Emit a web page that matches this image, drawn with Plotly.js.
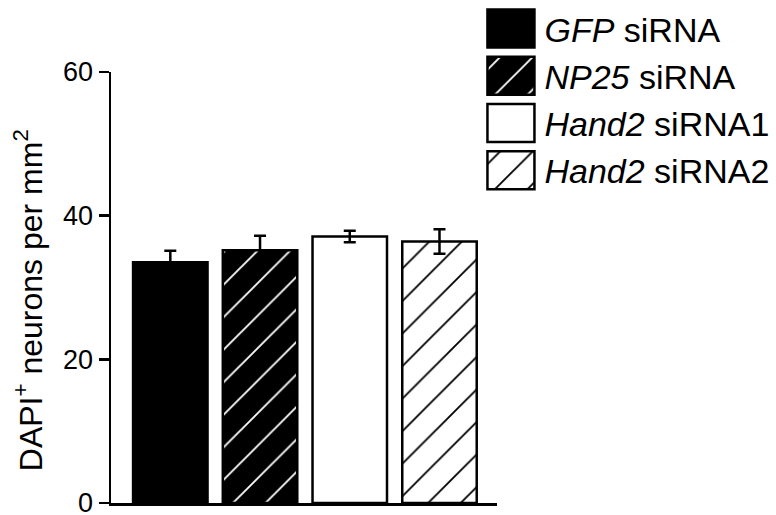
<!DOCTYPE html>
<html>
<head>
<meta charset="utf-8">
<script src="https://cdn.plot.ly/plotly-3.0.1.min.js"></script>
<style>html,body{margin:0;padding:0;background:#fff;}#chart{width:776px;height:515px;}</style>
</head>
<body>
<div id="chart"></div>
<script>
// Data
const categories = ["GFP siRNA", "NP25 siRNA", "Hand2 siRNA1", "Hand2 siRNA2"];
const legendNames = ["<i>GFP</i> siRNA", "<i>NP25</i> siRNA", "<i>Hand2</i> siRNA1", "<i>Hand2</i> siRNA2"];
const values = [33.5, 35.2, 37.1, 36.4];
const errors = [1.6, 2.0, 0.8, 1.7];
const yTicks = [0, 20, 40, 60];
const yTitle = "DAPI<sup>+</sup> neurons per mm<sup>2</sup>";

// Styling per bar
const fillColors = ["#000000", "#000000", "#ffffff", "#ffffff"];
const patternShapes = ["", "/", "", "/"];
const patternFg = ["#ffffff", "#ffffff", "#000000", "#000000"];

const FONT = "Liberation Sans, Arial, Helvetica, sans-serif";

const traces = categories.map((c, i) => ({
  type: "bar",
  name: legendNames[i],
  x: [c],
  y: [values[i]],
  width: 0.83,
  marker: {
    color: fillColors[i],
    line: {color: "#000000", width: 2.5},
    pattern: {
      shape: patternShapes[i],
      bgcolor: fillColors[i],
      fgcolor: patternFg[i],
      size: 23,
      solidity: 0.08,
      fillmode: "replace"
    }
  },
  error_y: {type: "data", array: [errors[i]], visible: true, color: "#000000", thickness: 2.5, width: 6},
  hoverinfo: "skip"
}));

const layout = {
  width: 776,
  height: 515,
  paper_bgcolor: "#ffffff",
  plot_bgcolor: "#ffffff",
  margin: {l: 111, r: 279, t: 72, b: 12, autoexpand: false},
  barmode: "overlay",
  font: {family: FONT, color: "#000000"},
  showlegend: true,
  legend: {
    xref: "container", yref: "container",
    x: 0.623, y: 1.0, xanchor: "left", yanchor: "top",
    font: {family: FONT, size: 34, color: "#000000"},
    itemwidth: 51,
    tracegroupgap: 0,
    bgcolor: "rgba(0,0,0,0)",
    borderwidth: 0,
    itemclick: false, itemdoubleclick: false
  },
  xaxis: {
    type: "category",
    range: [-0.661, 3.641],
    showticklabels: false,
    ticks: "",
    showgrid: false,
    zeroline: false,
    showline: true,
    linecolor: "#000000",
    linewidth: 2.5,
    fixedrange: true
  },
  yaxis: {
    range: [0, 60],
    tickvals: yTicks,
    ticktext: yTicks.map(String),
    ticks: "outside",
    ticklen: 10,
    tickwidth: 2.5,
    tickcolor: "#000000",
    ticklabeloverflow: "allow",
    tickfont: {family: FONT, size: 27, color: "#000000"},
    showgrid: false,
    zeroline: false,
    showline: true,
    linecolor: "#000000",
    linewidth: 2.5,
    fixedrange: true
  },
  annotations: [{
    text: yTitle,
    xref: "paper", yref: "paper",
    x: -0.213, y: 0.47,
    xanchor: "center", yanchor: "middle",
    textangle: -90,
    showarrow: false,
    font: {family: FONT, size: 32, color: "#000000"}
  }]
};

function fixLegendSymbols() {
  const barPaths = Array.from(document.querySelectorAll("#chart .barlayer .trace")).map(t => t.querySelector("path"));
  const items = document.querySelectorAll("#chart .legend .traces");
  items.forEach((item, i) => {
    const p = item.querySelector(".legendpoints path");
    if (!p) return;
    p.setAttribute("d", "M20.5,19H-26.5V-19H20.5Z");
    const src = barPaths[i];
    if (src && src.style.fill) p.style.fill = src.style.fill;
  });
}

const gd = document.getElementById("chart");
Plotly.newPlot(gd, traces, layout, {displayModeBar: false, staticPlot: true}).then(() => {
  fixLegendSymbols();
  gd.on("plotly_afterplot", fixLegendSymbols);
  requestAnimationFrame(fixLegendSymbols);
  setTimeout(fixLegendSymbols, 50);
});
</script>
</body>
</html>
